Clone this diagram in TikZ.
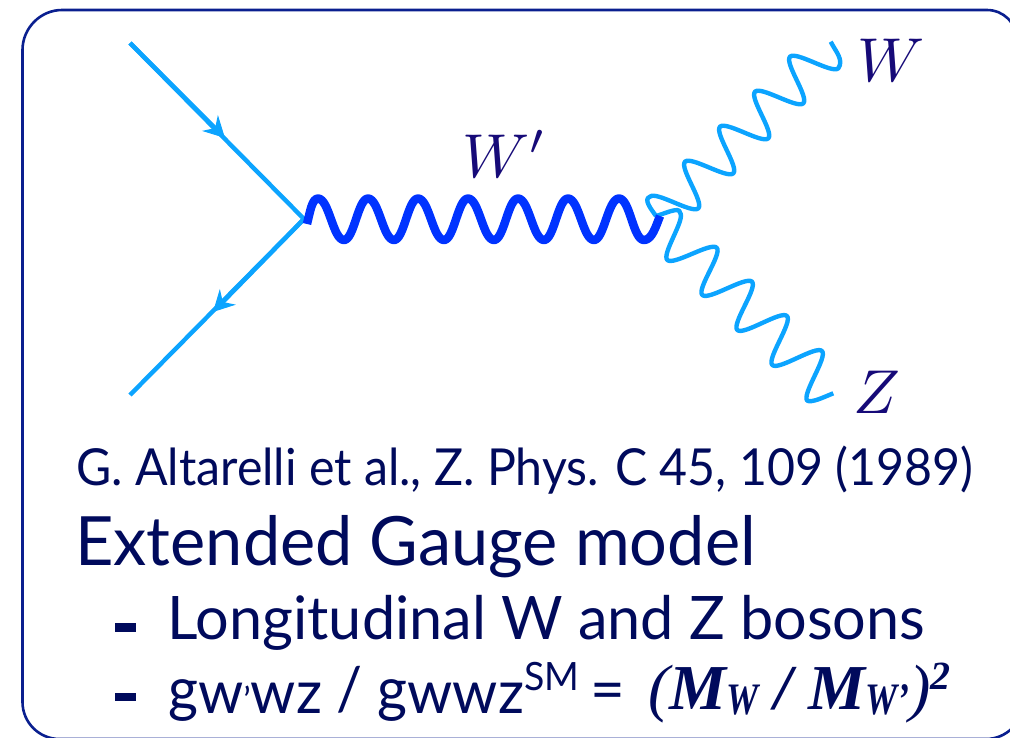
\documentclass[tikz,border=0pt]{standalone}
\usepackage{fontspec}
\setmainfont{Lato}
\newfontfamily\timesf{Liberation Serif}
\usetikzlibrary{arrows.meta}
\definecolor{frameblue}{HTML}{0A1F8F}
\definecolor{fermion}{HTML}{0CA4FF}
\definecolor{heavy}{HTML}{0033FF}
\definecolor{navy}{HTML}{000A5C}
\definecolor{mathnavy}{HTML}{160A78}
\tikzset{
  x=1pt,y=-1pt,
  fermionline/.style={draw=fermion,line width=4.4pt},
  fermiontip/.style={draw=fermion,line width=4.4pt,-{Stealth[length=21pt,width=22pt,inset=7pt]}},
  lightboson/.style={draw=fermion,line width=4.4pt,line join=round},
  heavyboson/.style={draw=heavy,line width=8.5pt,line join=round},
  mathlabel/.style={text=mathnavy,anchor=base,inner sep=0pt,scale=6.2},
  txt/.style={text=navy,anchor=base west,inner sep=0pt},
  dashmark/.style={fill=navy,draw=none,inner sep=0pt}
}
\newcommand{\wigUp}[1]{.. controls +(6,-6) and +(-6,6) .. (#1)}
\newcommand{\wigDn}[1]{.. controls +(6,6) and +(-6,-6) .. (#1)}
\begin{document}
\begin{tikzpicture}
\useasboundingbox (0,0) rectangle (1010,737);
\draw[frameblue,line width=2.6pt] (22.5,50) .. controls (22.5,28) and (40.5,10) .. (62,10)
  -- (987,10) .. controls (1003.6,10) and (1017,23.4) .. (1017,40)
  -- (1023,702) .. controls (1023,722.4) and (1006.4,739) .. (986,739)
  -- (59.5,739) .. controls (39,739) and (22.5,722.4) .. (22.5,702) -- cycle;

\coordinate (q1) at (130,43);
\coordinate (m1) at (225,138);
\coordinate (v) at (304,219);
\coordinate (m2) at (213,312);
\coordinate (q2) at (130,395);
\draw[fermionline] (q1) -- (v) -- (q2);
\draw[fermiontip] (q1) -- (m1);
\draw[fermiontip] (v) -- (m2);

% W boson
\coordinate (vw) at (656,216);
\coordinate (we) at (830.7,41.7);
\draw[lightboson] (vw) .. controls (651,209) and (643,199) .. (650,196.7)
  \wigUp{698.3,208.3} \wigUp{685,161.7} \wigUp{733.3,173.3} \wigUp{720,126.7}
  \wigUp{768.3,138.3} \wigUp{755,91.7} \wigUp{803.3,103.3} \wigUp{790,56.7}
  \wigUp{838.3,68.3} .. controls (844,60) and (836,52) .. (we);

% Z boson
\coordinate (ze) at (833.3,393.3);
\draw[lightboson] (vw) .. controls (664,214) and (680,206) .. (680,212.7)
  \wigDn{667.3,260} \wigDn{716.7,247.7} \wigDn{702.3,295} \wigDn{752,281.7}
  \wigDn{737.3,330} \wigDn{787,316} \wigDn{772.3,365} \wigDn{822,351}
  \wigDn{807.3,400.7} .. controls (812,403) and (824,397) .. (ze);

% W' boson
\coordinate (hs) at (307,224);
\coordinate (he) at (660,216);
\draw[heavyboson] (hs) .. controls (310,212) and (312,198.5) .. (318,198.5)
  .. controls (329,198.5) and (333,240) .. (344,240)
  .. controls (354,240) and (358,198.5) .. (368,198.5)
  .. controls (379,198.5) and (383,240) .. (394,240)
  .. controls (404,240) and (408,198.5) .. (418,198.5)
  .. controls (429,198.5) and (433,240) .. (444,240)
  .. controls (454,240) and (458,198.5) .. (468,198.5)
  .. controls (479,198.5) and (483,240) .. (494,240)
  .. controls (504,240) and (508,198.5) .. (518,198.5)
  .. controls (529,198.5) and (533,240) .. (544,240)
  .. controls (554,240) and (558,198.5) .. (568,198.5)
  .. controls (579,198.5) and (583,240) .. (594,240)
  .. controls (604,240) and (608,198.5) .. (619,198.5)
  .. controls (630,198.5) and (633,240) .. (644,240)
  .. controls (652,240) and (656,226) .. (he);

\node[mathlabel] (wp) at (505,177) {$W'$};
\node[mathlabel] (wl) at (891,81) {$W$};
\node[mathlabel] (zl) at (877,413) {$Z$};

\node[txt,xscale=.946,font=\fontsize{51}{51}\selectfont] (ref) at (76,485) {G. Altarelli et al., Z. Phys. C 45, 109 (1989)};
\node[txt,xscale=.98,font=\fontsize{68}{68}\selectfont] (head) at (75,565) {Extended Gauge model};
\node[dashmark,minimum width=21pt,minimum height=9pt] (d1) at (125.5,627.5) {};
\node[txt,xscale=.99,font=\fontsize{60}{60}\selectfont] (l1) at (167,639) {Longitudinal W and Z bosons};
\node[dashmark,minimum width=21pt,minimum height=8pt] (d2) at (125.5,697) {};
\node[txt,xscale=.96,font=\fontsize{60}{60}\selectfont] (l2) at (168,710) {g\raisebox{-3pt}{w\fontsize{36}{36}\selectfont ’\fontsize{60}{60}\selectfont wz} / g\raisebox{-3pt}{wwz}\raisebox{20pt}{\fontsize{39}{39}\selectfont SM}};
\node[txt,font=\fontsize{60}{60}\selectfont] (eq) at (590,710) {=};
\node[txt,font=\fontsize{64}{64}\selectfont\timesf] (l3) at (648,709) {\itshape (\bfseries M\raisebox{-5pt}{\fontsize{45}{45}\selectfont\scalebox{.8}[1]{W}} / M\raisebox{-5pt}{\fontsize{45}{45}\selectfont\scalebox{.8}[1]{W’}}\mdseries)\raisebox{20pt}{\bfseries\fontsize{40}{40}\selectfont 2}};
\end{tikzpicture}
\end{document}
